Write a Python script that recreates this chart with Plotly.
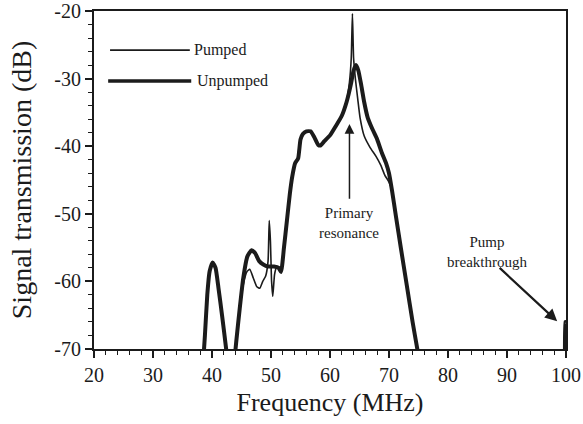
import plotly.graph_objects as go

# Frequency (MHz) / transmission (dB)
unpumped_freq = [38.5, 38.8, 39.2, 39.6, 40.1, 40.6, 41.1, 41.7, 42.4, 42.6, 43.2, 43.8, 44.1, 44.7, 45.3, 46.0, 46.7,
                 47.3, 48.0, 48.7, 49.5, 50.5, 51.3, 51.7, 52.2, 52.7, 53.2, 53.6, 54.1, 54.6, 55.0, 55.4, 56.0,
                 56.7, 57.3, 58.0, 58.4, 59.0, 60.0, 61.0, 62.0, 62.8, 63.5, 64.0, 64.4, 64.8, 65.3, 65.8, 66.4,
                 67.2, 68.0, 68.8, 69.5, 70.0, 70.5, 71.2, 72.0, 73.0, 74.0, 74.8, 75.2, None, 99.85, 99.9, 100.0]
unpumped_db = [-72, -68, -62, -58.5, -57.2, -58, -61, -65, -70, -72, -85, -72, -69, -64, -59.5, -56.3, -55.4,
               -55.8, -57, -57.5, -57.8, -57.8, -58.0, -58.6, -55, -51, -47, -44.5, -42.5, -41.8, -39, -38.2, -37.8,
               -37.8, -38.6, -39.8, -39.9, -39.3, -38.4, -37.0, -35.5, -33.5, -31, -28.8, -28.0, -28.8, -31, -33.5, -35.8,
               -37.5, -39, -41, -42.5, -44, -46.5, -50.5, -55, -60.5, -66, -70, -72, None, -75, -66, -66]

pumped_freq = [38.5, 38.8, 39.2, 39.6, 40.1, 40.6, 41.1, 41.7, 42.4, 42.6, 43.2, 43.8, 44.1, 44.7, 45.3, 45.9, 46.4,
               47.0, 47.6, 48.1, 48.6, 49.1, 49.5, 49.7, 49.9, 50.1, 50.3, 50.6, 50.9, 51.3, 51.7, 52.1, 52.6,
               53.1, 53.5, 54.0, 54.5, 54.9, 55.3, 56.0, 56.7, 57.3, 58.0, 58.4, 59.0, 60.0, 61.0, 62.0, 62.8,
               63.3, 63.6, 63.8, 64.0, 64.3, 64.7, 65.1, 65.8, 66.8, 67.8, 68.6, 69.3, 70.0, 70.5, 71.2, 72.0,
               73.0, 74.0, 74.8, 75.2]
pumped_db = [-72, -68, -62, -58.5, -57.2, -58, -61, -65, -70, -72, -85, -72, -69, -64, -60.5, -58.6, -58.2,
             -59.5, -60.8, -61.0, -60, -59.2, -57, -51.0, -54, -60, -62.2, -59, -58, -58.0, -58.6, -55.5, -51.5,
             -47.5, -44.8, -42.8, -41.8, -39.2, -38.3, -37.9, -37.9, -38.7, -39.8, -39.9, -39.3, -38.4, -37.0, -35.5, -33.3,
             -30.5, -27, -20.4, -27, -30, -33, -35.8, -38.5, -40.2, -41.5, -42.8, -44.3, -45.3, -46.5, -50.5, -55,
             -60.5, -66, -70, -72]

legend_labels = ["Pumped", "Unpumped"]
x_ticks = [20, 30, 40, 50, 60, 70, 80, 90, 100]
y_ticks = [-70, -60, -50, -40, -30, -20]

INK = "#1b1b1b"
FONT = "Liberation Serif, Times New Roman, serif"

fig = go.Figure()
fig.add_trace(go.Scatter(x=pumped_freq, y=pumped_db, mode="lines", name=legend_labels[0],
                         line=dict(color=INK, width=1.6, shape="spline", smoothing=0.5), connectgaps=False))
fig.add_trace(go.Scatter(x=unpumped_freq, y=unpumped_db, mode="lines", name=legend_labels[1],
                         line=dict(color=INK, width=4, shape="spline", smoothing=0.5), connectgaps=False))

# custom legend
fig.add_shape(type="line", xref="paper", yref="paper", x0=0.034, x1=0.203, y0=0.884, y1=0.884,
              line=dict(color=INK, width=1.8))
fig.add_shape(type="line", xref="paper", yref="paper", x0=0.03, x1=0.206, y0=0.793, y1=0.793,
              line=dict(color=INK, width=3.5))
fig.add_annotation(xref="paper", yref="paper", x=0.208, y=0.884, text=legend_labels[0], showarrow=False,
                   xanchor="left", yanchor="middle", font=dict(family=FONT, size=16, color=INK))
fig.add_annotation(xref="paper", yref="paper", x=0.214, y=0.793, text=legend_labels[1], showarrow=False,
                   xanchor="left", yanchor="middle", font=dict(family=FONT, size=16, color=INK))

# annotations
fig.add_annotation(x=63.3, y=-36.7, ax=63.3, ay=-48, xref="x", yref="y", axref="x", ayref="y",
                   text="", showarrow=True, arrowhead=2, arrowsize=1.3, arrowwidth=1.5, arrowcolor=INK)
fig.add_annotation(x=63.3, y=-51.3, text="Primary<br>resonance", showarrow=False,
                   font=dict(family=FONT, size=15, color=INK))
fig.add_annotation(x=98.5, y=-65.9, ax=88.5, ay=-57.8, xref="x", yref="y", axref="x", ayref="y",
                   text="", showarrow=True, arrowhead=2, arrowsize=1.1, arrowwidth=2.2, arrowcolor=INK)
fig.add_annotation(x=86.6, y=-55.7, text="Pump<br>breakthrough", showarrow=False,
                   font=dict(family=FONT, size=15, color=INK))

axis_common = dict(showline=True, linecolor=INK, linewidth=2, mirror=True, showgrid=False, zeroline=False,
                   automargin=False, ticklabeloverflow="allow",
                   ticks="outside", tickcolor=INK, tickwidth=1.5, ticklen=7,
                   tickfont=dict(family=FONT, size=20, color=INK),
                   minor=dict(ticks="outside", ticklen=4, tickwidth=1.2, tickcolor=INK, dtick=2))
fig.update_xaxes(range=[20, 100], tickvals=x_ticks, ticktext=[str(v) for v in x_ticks],
                 title=dict(text="Frequency (MHz)", font=dict(family=FONT, size=26, color=INK), standoff=8),
                 **axis_common)
fig.update_yaxes(range=[-70, -20], tickvals=y_ticks, ticktext=[str(v) for v in y_ticks],
                 title=dict(text="Signal transmission (dB)", font=dict(family=FONT, size=28, color=INK), standoff=15),
                 **axis_common)
fig.update_layout(width=583, height=424, margin=dict(l=94, r=17, t=11, b=75),
                  font=dict(family=FONT, color=INK),
                  plot_bgcolor="white", paper_bgcolor="white", showlegend=False)
fig.write_html("out.html", config={"displayModeBar": False},
               post_script="document.body.style.margin='0';document.body.style.padding='0';")
